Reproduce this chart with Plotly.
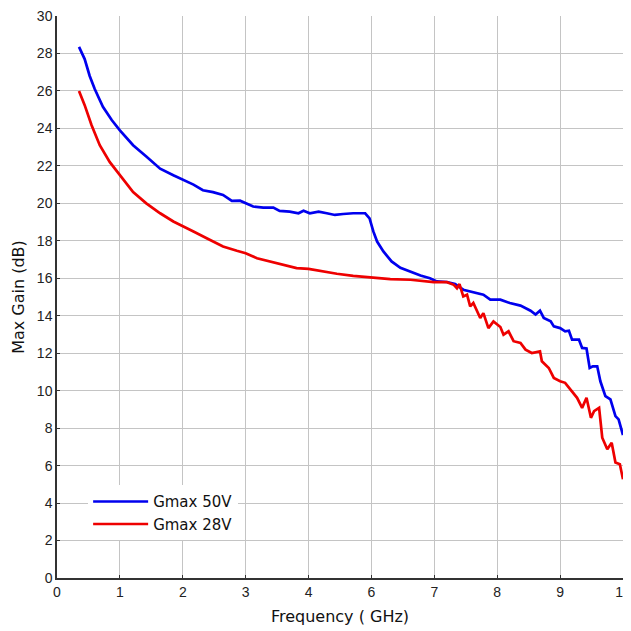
import plotly.graph_objects as go

# x positions are in axis units (grid index); tick labels below map them to GHz labels
tick_pos = [0, 1, 2, 3, 4, 5, 6, 7, 8, 9]
tick_labels = ["0", "1", "2", "3", "4", "6", "7", "8", "9", "10"]
y_ticks = list(range(0, 31, 2))

blue_x = [0.35, 0.44, 0.52, 0.60, 0.73, 0.87, 1.0, 1.21, 1.42, 1.64, 1.85, 2.0, 2.17, 2.32, 2.48,
          2.64, 2.78, 2.91, 3.0, 3.12, 3.28, 3.44, 3.54, 3.7, 3.84, 3.92, 4.02, 4.16, 4.29, 4.42,
          4.55, 4.71, 4.9, 4.97, 5.03, 5.09, 5.19, 5.32, 5.46, 5.62, 5.78, 5.93, 6.04, 6.2, 6.33,
          6.46, 6.62, 6.78, 6.89, 7.05, 7.2, 7.37, 7.53, 7.61, 7.68, 7.74, 7.85, 7.9, 8.0, 8.08,
          8.14, 8.19, 8.3, 8.35, 8.42, 8.47, 8.52, 8.59, 8.64, 8.72, 8.8, 8.88, 8.93, 9.0]
blue_y = [28.35, 27.7, 26.8, 26.1, 25.15, 24.45, 23.9, 23.1, 22.5, 21.85, 21.5, 21.25, 21.0, 20.7, 20.6,
          20.45, 20.13, 20.14, 20.0, 19.83, 19.77, 19.77, 19.6, 19.56, 19.47, 19.6, 19.47, 19.56, 19.47, 19.38,
          19.43, 19.47, 19.47, 19.2, 18.5, 17.96, 17.43, 16.9, 16.56, 16.34, 16.15, 16.0, 15.83, 15.8, 15.69,
          15.39, 15.26, 15.12, 14.86, 14.86, 14.68, 14.54, 14.27, 14.06, 14.27, 13.88, 13.7, 13.43, 13.34, 13.17,
          13.2, 12.72, 12.72, 12.28, 12.25, 11.21, 11.3, 11.3, 10.5, 9.71, 9.53, 8.64, 8.47, 7.63]

red_x = [0.35, 0.44, 0.55, 0.68, 0.84, 1.0, 1.21, 1.42, 1.64, 1.85, 2.0, 2.17, 2.38, 2.64, 2.86,
         3.0, 3.18, 3.39, 3.6, 3.81, 4.0, 4.24, 4.45, 4.71, 5.0, 5.3, 5.62, 5.78, 5.99, 6.2,
         6.31, 6.36, 6.4, 6.46, 6.52, 6.57, 6.62, 6.73, 6.78, 6.86, 6.94, 7.05, 7.1, 7.18, 7.26,
         7.37, 7.45, 7.55, 7.68, 7.71, 7.82, 7.9, 8.0, 8.08, 8.16, 8.27, 8.35, 8.42, 8.49, 8.54,
         8.62, 8.67, 8.75, 8.82, 8.88, 8.95, 9.0]
red_y = [26.0, 25.24, 24.17, 23.1, 22.2, 21.5, 20.6, 20.0, 19.47, 19.03, 18.8, 18.5, 18.14, 17.7, 17.47,
         17.34, 17.07, 16.9, 16.75, 16.54, 16.5, 16.36, 16.24, 16.13, 16.04, 15.95, 15.92, 15.87, 15.79, 15.79,
         15.65, 15.47, 15.69, 15.03, 15.12, 14.5, 14.68, 13.88, 14.14, 13.34, 13.7, 13.4, 12.99, 13.17, 12.64,
         12.55, 12.19, 12.01, 12.1, 11.57, 11.21, 10.68, 10.5, 10.42, 10.06, 9.62, 9.08, 9.62, 8.55, 8.91,
         9.08, 7.49, 6.87, 7.22, 6.16, 6.07, 5.27]

fig = go.Figure()
fig.add_trace(go.Scatter(x=blue_x, y=blue_y, mode="lines", name="Gmax 50V",
                         line=dict(color="#0000ee", width=2.7)))
fig.add_trace(go.Scatter(x=red_x, y=red_y, mode="lines", name="Gmax 28V",
                         line=dict(color="#ee0000", width=2.7)))

fig.update_layout(
    width=623, height=623,
    margin=dict(l=49, r=8, t=8, b=53),
    paper_bgcolor="white", plot_bgcolor="white",
    font=dict(family="Liberation Sans, Arial", color="#222", size=14),
    legend=dict(x=0.055, y=0.165, xanchor="left", yanchor="top",
                bgcolor="white", borderwidth=0, itemwidth=55,
                font=dict(family="DejaVu Sans", size=15, color="#111"),
                tracegroupgap=0),
    xaxis=dict(range=[0, 9], tickmode="array", tickvals=tick_pos, ticktext=tick_labels,
               automargin=False, ticklabeloverflow="allow",
               showgrid=True, gridcolor="#c4c4c4", gridwidth=1,
               showline=True, linecolor="#333", linewidth=1.5,
               ticks="inside", ticklen=3, tickcolor="#333", zeroline=False,
               title=dict(text="Frequency ( GHz)", font=dict(family="DejaVu Sans", size=16, color="#111"),
                          standoff=12)),
    yaxis=dict(range=[0, 30], tickmode="array", tickvals=y_ticks,
               automargin=False, ticklabeloverflow="allow",
               showgrid=True, gridcolor="#c4c4c4", gridwidth=1,
               showline=True, linecolor="#333", linewidth=1.5,
               ticks="inside", ticklen=3, tickcolor="#333", zeroline=False,
               title=dict(text="Max Gain (dB)", font=dict(family="DejaVu Sans", size=16, color="#111"),
                          standoff=8)),
)

fig.write_html("out.html")
